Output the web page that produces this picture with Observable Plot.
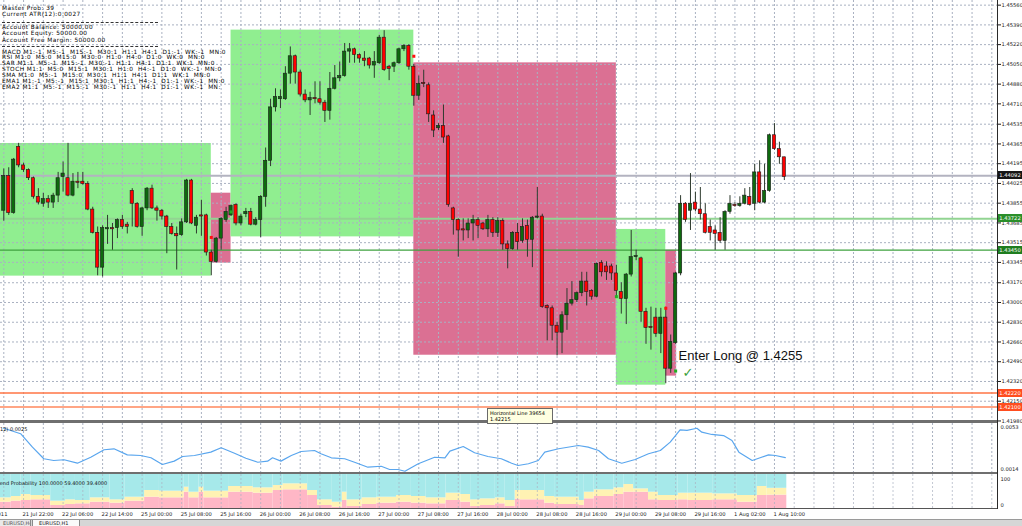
<!DOCTYPE html>
<html><head><meta charset="utf-8">
<script src="https://cdn.jsdelivr.net/npm/d3@7"></script>
<script src="https://cdn.jsdelivr.net/npm/@observablehq/plot@0.6"></script>
<style>
html,body{margin:0;padding:0;background:#fff;}
#root{position:relative;width:1022px;height:526px;overflow:hidden;background:#fff;font-family:"DejaVu Sans",sans-serif;}
#root > *{position:absolute;}
.info{left:2px;font-size:5.8px;letter-spacing:0.45px;line-height:6px;white-space:pre;color:#000;}
.sep{left:2px;width:156px;height:0;border-top:1px dashed #333;}
.lbl{left:998px;width:24px;height:8px;color:#fff;font-size:5.2px;line-height:8px;text-align:center;}
</style></head>
<body><div id="root"></div>
<script>
// ---------- DATA ----------
// H1 candles, bar index 0..158
const open = [1.4379,1.4409,1.4377,1.4434,1.4418,1.4414,1.4407,1.4391,1.4385,1.4389,
1.4386,1.4392,1.4408,1.4407,1.4392,1.4404,1.4404,1.4402,1.4380,1.4360,
1.4330,1.4363,1.4364,1.4364,1.4371,1.4367,1.4396,1.4385,1.4365,1.4381,
1.4398,1.4381,1.4379,1.4374,1.4365,1.4359,1.4358,1.4369,1.4405,1.4366,
1.4375,1.4375,1.4343,1.4335,1.4355,1.4371,1.4375,1.4384,1.4368,1.4376,
1.4378,1.4367,1.4371,1.4391,1.4422,1.4468,1.4475,1.4475,1.4497,1.4512,
1.4498,1.4479,1.4474,1.4476,1.4475,1.4472,1.4465,1.4484,1.4493,1.4495,
1.4516,1.4518,1.4513,1.4510,1.4510,1.4504,1.4506,1.4528,1.4503,1.4503,
1.4506,1.4518,1.4521,1.4503,1.4478,1.4489,1.4487,1.4461,1.4450,1.4452,
1.4443,1.4381,1.4371,1.4363,1.4362,1.4368,1.4371,1.4368,1.4363,1.4371,
1.4360,1.4370,1.4350,1.4346,1.4360,1.4353,1.4366,1.4354,1.4373,1.4374,
1.4297,1.4295,1.4280,1.4274,1.4289,1.4299,1.4302,1.4308,1.4318,1.4310,
1.4305,1.4334,1.4331,1.4331,1.4325,1.4309,1.4303,1.4324,1.4339,1.4338,
1.4292,1.4279,1.4287,1.4273,1.4287,1.4243,1.4265,1.4325,1.4385,1.4379,
1.4386,1.4380,1.4376,1.4365,1.4362,1.4360,1.4353,1.4378,1.4384,1.4383,
1.4385,1.4391,1.4385,1.4412,1.4386,1.4396,1.4444,1.4432,1.4425];
const high = [1.4415,1.4416,1.4424,1.4437,1.4420,1.4415,1.4408,1.4398,1.4394,1.4392,
1.4394,1.4412,1.4421,1.4437,1.4411,1.4412,1.4412,1.4404,1.4382,1.4365,
1.4366,1.4375,1.4368,1.4372,1.4375,1.4369,1.4398,1.4386,1.4382,1.4399,
1.4401,1.4383,1.4380,1.4375,1.4368,1.4365,1.4372,1.4406,1.4406,1.4375,
1.4388,1.4376,1.4345,1.4356,1.4373,1.4382,1.4384,1.4385,1.4376,1.4381,
1.4381,1.4373,1.4392,1.4433,1.4475,1.4484,1.4483,1.4503,1.4520,1.4513,
1.4500,1.4483,1.4481,1.4490,1.4490,1.4474,1.4498,1.4504,1.4507,1.4523,
1.4523,1.4519,1.4514,1.4516,1.4511,1.4516,1.4530,1.4534,1.4504,1.4507,
1.4519,1.4522,1.4522,1.4505,1.4495,1.4500,1.4489,1.4465,1.4454,1.4470,
1.4444,1.4382,1.4372,1.4372,1.4372,1.4375,1.4373,1.4369,1.4375,1.4373,
1.4373,1.4372,1.4353,1.4361,1.4368,1.4372,1.4371,1.4374,1.4399,1.4376,
1.4298,1.4297,1.4283,1.4292,1.4312,1.4318,1.4309,1.4326,1.4326,1.4311,
1.4334,1.4336,1.4335,1.4333,1.4332,1.4317,1.4325,1.4362,1.4345,1.4339,
1.4295,1.4296,1.4295,1.4295,1.4296,1.4272,1.4326,1.4392,1.4386,1.4411,
1.4395,1.4399,1.4385,1.4371,1.4366,1.4373,1.4379,1.4392,1.4386,1.4391,
1.4398,1.4399,1.4419,1.4422,1.4419,1.4445,1.4454,1.4438,1.4425];
const low = [1.4370,1.4375,1.4376,1.4416,1.4412,1.4405,1.4389,1.4384,1.4382,1.4381,
1.4381,1.4386,1.4395,1.4391,1.4391,1.4398,1.4401,1.4379,1.4359,1.4323,
1.4322,1.4350,1.4345,1.4355,1.4363,1.4359,1.4365,1.4364,1.4357,1.4379,
1.4380,1.4370,1.4371,1.4342,1.4358,1.4328,1.4357,1.4368,1.4367,1.4359,
1.4357,1.4340,1.4323,1.4334,1.4345,1.4369,1.4374,1.4366,1.4366,1.4373,
1.4366,1.4366,1.4356,1.4382,1.4417,1.4464,1.4467,1.4474,1.4488,1.4488,
1.4477,1.4472,1.4461,1.4471,1.4470,1.4455,1.4457,1.4483,1.4490,1.4494,
1.4506,1.4506,1.4506,1.4503,1.4501,1.4493,1.4505,1.4499,1.4491,1.4498,
1.4505,1.4516,1.4500,1.4469,1.4474,1.4485,1.4455,1.4442,1.4448,1.4437,
1.4382,1.4358,1.4339,1.4353,1.4355,1.4353,1.4355,1.4362,1.4356,1.4356,
1.4356,1.4345,1.4329,1.4345,1.4345,1.4351,1.4339,1.4330,1.4372,1.4295,
1.4267,1.4267,1.4254,1.4256,1.4276,1.4297,1.4300,1.4305,1.4297,1.4302,
1.4304,1.4322,1.4319,1.4319,1.4305,1.4290,1.4281,1.4322,1.4336,1.4283,
1.4264,1.4259,1.4270,1.4256,1.4230,1.4239,1.4264,1.4323,1.4369,1.4362,
1.4378,1.4371,1.4359,1.4353,1.4345,1.4351,1.4345,1.4376,1.4382,1.4382,
1.4384,1.4383,1.4379,1.4385,1.4385,1.4395,1.4431,1.4419,1.4405];
const close = [1.4409,1.4377,1.4423,1.4418,1.4414,1.4407,1.4391,1.4386,1.4389,1.4386,
1.4392,1.4407,1.4411,1.4392,1.4404,1.4403,1.4402,1.4380,1.4360,1.4330,
1.4364,1.4364,1.4363,1.4371,1.4365,1.4365,1.4385,1.4365,1.4381,1.4398,
1.4381,1.4379,1.4374,1.4365,1.4359,1.4357,1.4369,1.4405,1.4368,1.4373,
1.4374,1.4343,1.4335,1.4355,1.4372,1.4378,1.4383,1.4368,1.4374,1.4378,
1.4367,1.4371,1.4391,1.4422,1.4468,1.4477,1.4477,1.4497,1.4512,1.4498,
1.4479,1.4474,1.4476,1.4475,1.4472,1.4465,1.4484,1.4493,1.4495,1.4516,
1.4518,1.4513,1.4510,1.4508,1.4504,1.4507,1.4528,1.4500,1.4501,1.4506,
1.4518,1.4521,1.4503,1.4478,1.4488,1.4488,1.4462,1.4448,1.4452,1.4442,
1.4384,1.4371,1.4362,1.4362,1.4368,1.4371,1.4366,1.4363,1.4371,1.4360,
1.4370,1.4350,1.4346,1.4360,1.4352,1.4365,1.4354,1.4373,1.4374,1.4296,
1.4295,1.4280,1.4274,1.4289,1.4299,1.4302,1.4308,1.4318,1.4309,1.4305,
1.4333,1.4326,1.4326,1.4325,1.4310,1.4303,1.4324,1.4339,1.4340,1.4292,
1.4278,1.4278,1.4273,1.4287,1.4243,1.4266,1.4325,1.4385,1.4371,1.4385,
1.4380,1.4376,1.4360,1.4360,1.4359,1.4353,1.4378,1.4385,1.4383,1.4385,
1.4392,1.4384,1.4412,1.4386,1.4396,1.4444,1.4432,1.4425,1.4408];

// price-axis tick labels
const priceTicks = [1.45560,1.45390,1.45220,1.45050,1.44880,1.44710,1.44535,1.44365,1.44195,1.44025,1.43855,1.43685,1.43515,1.43345,1.43170,1.43000,1.42830,1.42660,1.42490,1.42320,1.42150,1.41980];

// zone rectangles (bar index, price)
const zoneStart = [-10, 42, 46, 83, 124, 134];
const zoneEnd   = [42, 46, 83, 124, 134, 136.2];
const zoneHigh  = [1.44369, 1.43941, 1.45345, 1.45063, 1.43629, 1.43450];
const zoneLow   = [1.43227, 1.43339, 1.43565, 1.42546, 1.42288, 1.42366];
const zoneKind  = ["buy", "sell", "buy", "sell", "buy", "sell"];

// horizontal lines
const hLinePrice = [1.44092, 1.43722, 1.43450, 1.42220, 1.42100];

// signal markers
const sigIdx   = [42, 83, 134, 46, 124, 136];
const sigPrice = [1.4356, 1.4512, 1.4295, 1.4378, 1.4305, 1.4241];
const sigKind  = ["sell", "sell", "sell", "buy", "buy", "buy"];

// annotation
const noteText = "Enter Long @ 1.4255";
const noteIdx = 136.6, notePrice = 1.4254;
const checkText = "\u2713";
const checkIdx = 138.5, checkPrice = 1.42395;
const tipLines = ["Horizontal Line 39654", "1.42215"];
const tipIdx = 97.9, tipPrice = 1.4210;

// ATR(12)
const atrIdx = [0,3.4,5.8,8.1,10.1,12.2,14.9,17.6,20.3,22.3,
25,27.7,29.8,32.1,34.5,36.2,38.6,41.9,44,46.7,
49,51.4,53.4,54.4,56.1,58.2,60.2,62.9,64.2,66.3,
69,71,73.7,76.4,78.1,79.8,81.2,83.9,87.2,89.3,
90.3,93,95.3,98,100.7,102.8,104.1,106.2,108.2,109.5,
112.3,116.3,118.3,120.4,122.4,125.1,127.8,130.5,132.9,134.9,
136.9,138.3,140.3,141.3,143.3,145.7,147.4,148.8,151.5,153.1,
154.8,156.2,158.2];
const atrVal = [0.0052,0.0047,0.00346,0.00239,0.00223,0.0023,0.00198,0.00253,0.00322,0.00331,
0.00275,0.00269,0.00248,0.00186,0.00217,0.0026,0.00269,0.0030,0.0034,0.0029,
0.00244,0.00207,0.00217,0.00248,0.00217,0.00269,0.00306,0.00315,0.00285,0.00248,
0.00239,0.00207,0.00161,0.0017,0.0014,0.0014,0.00124,0.00193,0.00253,0.00248,
0.0031,0.00352,0.00294,0.0026,0.00239,0.00198,0.00177,0.00193,0.00223,0.0030,
0.00331,0.00361,0.00346,0.00315,0.00239,0.00198,0.00232,0.00285,0.00315,0.00392,
0.00506,0.005,0.0052,0.00484,0.00463,0.00453,0.00407,0.0030,0.00223,0.00248,
0.00275,0.00269,0.0025];
const atrTicks = [0.0053, 0.0014];

// Trend probability (step segments): start bar, cumulative yellow top, pink top
const probStart = [-1,1.5,3.5,5.5,9.5,12.5,14.5,17.5,21.5,24.5,28.5,31.5,36.5,37.5,39.5,40.5,45.5,50.5,54.5,56.5,61.5,63.5,66.5,68.5,69.5,72.5,75.5,79.5,82.5,85.5,89.5,92.5,94.5,96.5,99.5,101.5,103.5,104.5,109.5,111.5,116.5,117.5,119.5,123.5,125.5,127.5,130.5,132.5,136.5,138.5,143.5,148.5,152.5,154.5];
const probEnd = 158.5;
const probYellow = [31.4,35.3,41.2,38.2,21.6,25.5,23.5,31.4,25.5,33.3,52.9,51,62.7,48,62.7,51,64.7,60.8,67.6,72.6,52.9,25.5,18.6,48,25.5,31.4,33.3,38.2,35.3,31.4,45.1,41.2,25.5,28.4,31.4,23.5,52.9,52.9,35.3,33.3,23.5,48,54.9,60.8,70.6,57.8,48,38.2,45.1,45.1,43.1,38.2,64.7,59.4];
const probPink = [18.6,21.6,23.5,25.5,8.8,11.8,13.7,18.6,15.7,21.6,33.3,31.4,48,31.4,48,31.4,48,45.1,52.9,54.9,38.2,8.8,3.9,23.5,5.9,11.8,15.7,18.6,15.7,13.7,23.5,18.6,5.9,8.8,13.7,5.9,27.5,25.5,15.7,11.8,8.8,28.4,35.3,41.2,48,48,25.5,23.5,25.5,23.5,25.5,18.6,38.2,39.4];
const probMax = 100;

// time axis labels
const timeIdx = [-5,4,12,20,28,36,44,52,60,68,76,84,92,100,108,116,124,132,140,148,156];
const timeText = ["21 Jul 2011","21 Jul 22:00","22 Jul 06:00","22 Jul 14:00","25 Jul 00:00","25 Jul 08:00","25 Jul 16:00","26 Jul 00:00","26 Jul 08:00","26 Jul 16:00","27 Jul 00:00","27 Jul 08:00","27 Jul 16:00","28 Jul 00:00","28 Jul 08:00","28 Jul 16:00","29 Jul 00:00","29 Jul 08:00","29 Jul 16:00","1 Aug 02:00","1 Aug 10:00"];

// info panel text
const infoText = ["Master Prob: 39","Current ATR(12):0.0027","Account Balance: 50000.00","Account Equity: 50000.00","Account Free Margin: 50000.00",
"MACD M1:-1  M5:-1  M15:-1  M30:1  H1:1  H4:1  D1:-1  WK:-1  MN:0",
"RSI M1:0  M5:0  M15:0  M30:0  H1:0  H4:0  D1:0  WK:0  MN:0",
"SAR M1:1  M5:-1  M15:-1  M30:-1  H1:1  H4:1  D1:1  WK:1  MN:0",
"STOCH M1:1  M5:0  M15:1  M30:1  H1:0  H4:-1  D1:0  WK:-1  MN:0",
"SMA M1:0  M5:-1  M15:0  M30:1  H1:1  H4:1  D1:1  WK:1  MN:0",
"EMA1 M1:-1  M5:-1  M15:1  M30:1  H1:1  H4:-1  D1:-1  WK:-1  MN:0",
"EMA2 M1:1  M5:-1  M15:-1  M30:-1  H1:1  H4:1  D1:-1  WK:-1  MN:"];
const atrLabel = "ATR(12) 0.0025";
const probLabel = "Trend Probability 100.0000 59.4000 39.4000";
const tabText = ["EURUSD,H4", "EURUSD,H1"];

// ---------- STYLES ----------
const GRID = "#a9b1c1";
const hLineStroke = ["#b3b3c0", "#92d492", "#3fa23f", "#ff7444", "#ffa585"];
const hLineWidth = [2, 2, 1.3, 1.5, 2];
const hLineLabelBg = ["#161616", "#2a8f2a", "#1f7d1f", "#ff4d1f", "#ff4d1f"];
const infoCenter = [8, 14.2, 26.7, 33.3, 40, 52.2, 57.4, 62.8, 69.2, 75, 80.8, 86.7];
const sepCenter = [21.7, 45.7];

// ---------- BUILD ----------
const root = document.getElementById("root");
function add(el, top, left) { el.style.top = top + "px"; el.style.left = (left ?? 0) + "px"; root.appendChild(el); return el; }
function div(css, text) { const d = document.createElement("div"); d.style.cssText = css; if (text != null) d.textContent = text; return d; }

const candles = open.map((o, k) => ({i: k, o, h: high[k], l: low[k], c: close[k]}));
const zones = zoneStart.map((s, k) => ({x1: s, x2: zoneEnd[k], y1: zoneLow[k], y2: zoneHigh[k], kind: zoneKind[k]}));
const hLines = hLinePrice.map((p, k) => ({p, k}));
const signals = sigIdx.map((i, k) => ({i, p: sigPrice[k], kind: sigKind[k]}));
const atr = atrIdx.map((i, k) => ({i, v: atrVal[k]}));
const prob = probStart.map((s, k) => ({x1: s, x2: k + 1 < probStart.length ? probStart[k + 1] : probEnd, y: probYellow[k], p: probPink[k]}));
const times = timeIdx.map((i, k) => ({i, t: timeText[k]}));
const gridX = d3.range(0, 202, 4);

const xDomain = [-0.668, 201.15];
const common = {
  width: 1022, marginLeft: 0, marginRight: 25, marginTop: 0,
  x: {domain: xDomain, axis: null},
  color: {type: "identity"},
  style: {background: "transparent", overflow: "visible", fontFamily: "DejaVu Sans"}
};

const main = Plot.plot({
  ...common, height: 423, marginBottom: 3,
  y: {domain: [1.41984, 1.456], axis: null},
  marks: [
    Plot.rect(zones, {x1: "x1", x2: "x2", y1: "y1", y2: "y2", fill: d => d.kind === "buy" ? "#90ee90" : "#db7093", clip: true}),
    Plot.ruleY(priceTicks, {stroke: GRID, strokeDasharray: "2,2"}),
    Plot.ruleX(gridX, {stroke: GRID, strokeDasharray: "2,2"}),
    Plot.ruleY(hLines, {y: "p", stroke: d => hLineStroke[d.k], strokeWidth: d => hLineWidth[d.k]}),
    Plot.ruleX(candles, {x: "i", y1: "l", y2: "h", stroke: "#2e3a2e", strokeWidth: 1}),
    Plot.rect(candles, {x1: d => d.i - 0.33, x2: d => d.i + 0.33, y1: "o", y2: "c",
      fill: d => d.c >= d.o ? "#0e6a0e" : "#ff0000", stroke: "#1c1c1c", strokeWidth: 0.6}),
    Plot.dot(signals, {x: "i", y: "p", symbol: "square", r: 1.7, fill: d => d.kind === "sell" ? "#ff1010" : "#22b022", stroke: null}),
    Plot.text([noteText], {x: () => noteIdx, y: () => notePrice, text: d => d, textAnchor: "start", fontSize: 13, fontFamily: "Liberation Sans", fill: "#111"}),
    Plot.text([checkText], {x: () => checkIdx, y: () => checkPrice, text: d => d, fontSize: 13, fontWeight: "bold", fill: "#3a9f3a"}),
    Plot.axisY(priceTicks, {anchor: "right", tickSize: 3, tickPadding: 1, tickFormat: d => d.toFixed(5), fontSize: 5.2, color: "#1a1a1a", label: null})
  ]
});
add(main, 0);

const atrPlot = Plot.plot({
  ...common, height: 49, marginBottom: 0,
  y: {domain: [0.001123, 0.005641], axis: null},
  marks: [
    Plot.ruleX(gridX, {stroke: GRID, strokeDasharray: "2,2"}),
    Plot.line(atr, {x: "i", y: "v", stroke: "#5aa6ee", strokeWidth: 1.2, clip: true}),
    Plot.axisY(atrTicks, {anchor: "right", tickSize: 0, tickPadding: 3, tickFormat: d => d.toFixed(4), fontSize: 5.2, color: "#1a1a1a", label: null}),
    Plot.text([atrLabel], {frameAnchor: "top-left", text: d => d, dx: -12, dy: 4, fontSize: 5, fill: "#111"})
  ]
});
add(atrPlot, 423);

const probPlot = Plot.plot({
  ...common, height: 45, marginBottom: 11,
  y: {domain: [0, probMax], axis: null},
  marks: [
    Plot.rect(prob, {x1: "x1", x2: "x2", y1: 0, y2: "p", fill: "#ffb7c6", clip: true}),
    Plot.rect(prob, {x1: "x1", x2: "x2", y1: "p", y2: "y", fill: "#fff2b3", clip: true}),
    Plot.rect(prob, {x1: "x1", x2: "x2", y1: "y", y2: () => probMax, fill: "#a6e9ea", clip: true}),
    Plot.ruleX(gridX, {stroke: GRID, strokeDasharray: "2,2", strokeOpacity: 0.7}),
    Plot.text([probLabel], {frameAnchor: "top-left", text: d => d, dx: -5, dy: 7, fontSize: 5, fill: "#111"}),
    Plot.text([probMax], {y: d => d, text: d => String(d), frameAnchor: "right", dx: 3, dy: 5, textAnchor: "start", fontSize: 5.2, fill: "#1a1a1a"}),
    Plot.text([0], {y: d => d, text: d => String(d), frameAnchor: "right", dx: 3, dy: -3, textAnchor: "start", fontSize: 5.2, fill: "#1a1a1a"}),
    Plot.text(times, {x: "i", text: "t", frameAnchor: "bottom", dy: 7, dx: -1, textAnchor: "start", fontSize: 5.2, fill: "#1a1a1a"})
  ]
});
add(probPlot, 474);

// panel borders & axis line
add(div("width:997px;height:3px;background:#6f6f6f;"), 420);
add(div("width:997px;height:2px;background:#6f6f6f;"), 472);
add(div("width:997px;height:1px;background:#555;"), 508);
add(div("width:1px;height:509px;background:#2a2a2a;"), 0, 997);

// info text block
infoText.forEach((t, k) => add(div("", t), infoCenter[k] - 3, 2).className = "info");
sepCenter.forEach(c => add(div(""), c, 2).className = "sep");

// price labels for horizontal lines
const ys = main.scale("y"), xs = main.scale("x");
hLines.forEach(d => {
  const el = add(div(`background:${hLineLabelBg[d.k]};`, d.p.toFixed(5)), ys.apply(d.p) - 4);
  el.className = "lbl"; el.style.left = "998px";
});

// tooltip
add(div("width:66px;height:16px;background:#ffffe1;border:1px solid #6a6a6a;font-size:5px;line-height:6px;padding:1px 0 0 2px;box-sizing:border-box;color:#000;white-space:pre;z-index:5;",
  tipLines.join("\n")), ys.apply(tipPrice) + 1, xs.apply(tipIdx));

// bottom tab bar
add(div("width:1022px;height:7px;background:#d6d6d6;border-top:1px solid #9a9a9a;"), 519);
add(div("width:31px;height:7px;background:#e9e9e9;border-right:1px solid #8a8a8a;font-size:5px;line-height:7px;color:#555;padding-left:3px;box-sizing:border-box;overflow:hidden;", tabText[0]), 520, 0);
add(div("width:48px;height:7px;background:#fafafa;border-right:1px solid #8a8a8a;border-left:1px solid #8a8a8a;font-size:5px;line-height:7px;color:#222;padding-left:6px;box-sizing:border-box;overflow:hidden;", tabText[1]), 520, 32);
</script></body></html>
